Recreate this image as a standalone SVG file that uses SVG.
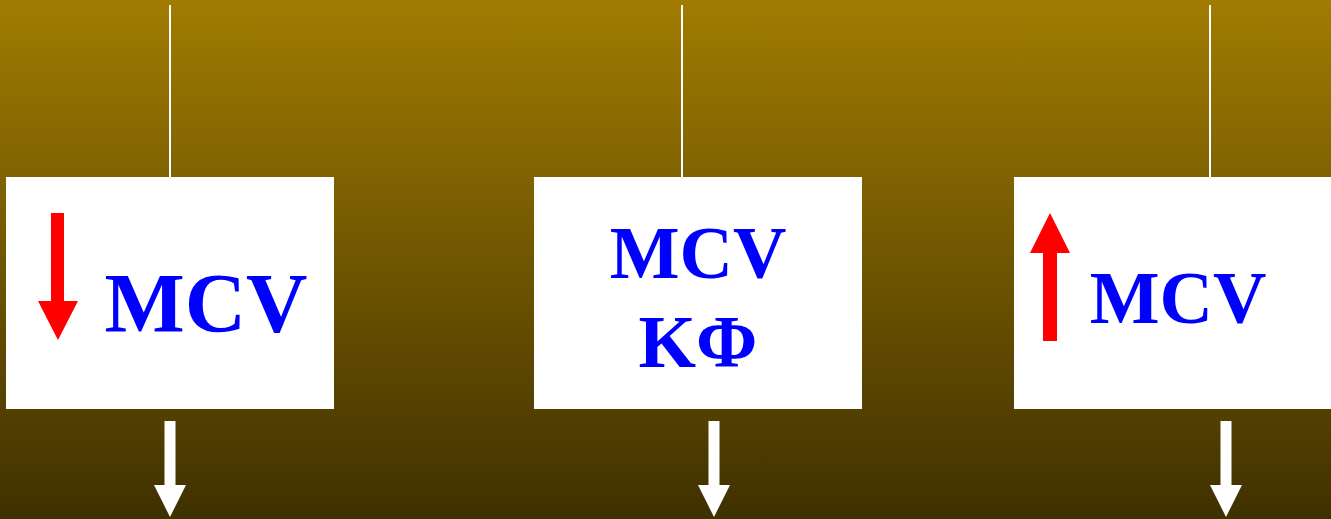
<svg xmlns="http://www.w3.org/2000/svg" width="1331" height="519" viewBox="0 0 1331 519">
<defs>
<linearGradient id="bg" x1="0" y1="0" x2="0" y2="1">
<stop offset="0" stop-color="#A17C02"/>
<stop offset="1" stop-color="#3F3000"/>
</linearGradient>
<style>
.box{fill:#ffffff}
.lbl{font-family:"Liberation Serif","Times New Roman",serif;font-weight:bold;fill:#0000FF;text-anchor:middle}
.wire{stroke:#ffffff;stroke-width:2}
.warr{fill:#ffffff}
.rarr{fill:#FF0000}
</style>
</defs>
<rect x="0" y="0" width="1331" height="519" fill="url(#bg)"/>
<g id="connectors">
<line class="wire" x1="170" y1="5" x2="170" y2="177"/>
<line class="wire" x1="682" y1="5" x2="682" y2="177"/>
<line class="wire" x1="1210" y1="5" x2="1210" y2="177"/>
<polygon class="warr" points="164.5,421 175.5,421 175.5,485 186,485 170,517 154,485 164.5,485"/>
<polygon class="warr" points="708.5,421 719.5,421 719.5,485 730,485 714,517 698,485 708.5,485"/>
<polygon class="warr" points="1220.5,421 1231.5,421 1231.5,485 1242,485 1226,517 1210,485 1220.5,485"/>
</g>
<g id="node-left">
<rect class="box" x="6" y="177" width="328" height="232"/>
<polygon class="rarr" points="51,213 64,213 64,301 78,301 58,340 38,301 51,301"/>
<text class="lbl" x="206" y="332" font-size="85">MCV</text>
</g>
<g id="node-middle">
<rect class="box" x="534" y="177" width="328" height="232"/>
<text class="lbl" x="698" y="278" font-size="74">MCV</text>
<text class="lbl" x="698" y="367" font-size="74">KΦ</text>
</g>
<g id="node-right">
<rect class="box" x="1014" y="177" width="317" height="232"/>
<polygon class="rarr" points="1043,341 1057,341 1057,253 1070,253 1050,213 1030,253 1043,253"/>
<text class="lbl" x="1178" y="323" font-size="74">MCV</text>
</g>
</svg>
